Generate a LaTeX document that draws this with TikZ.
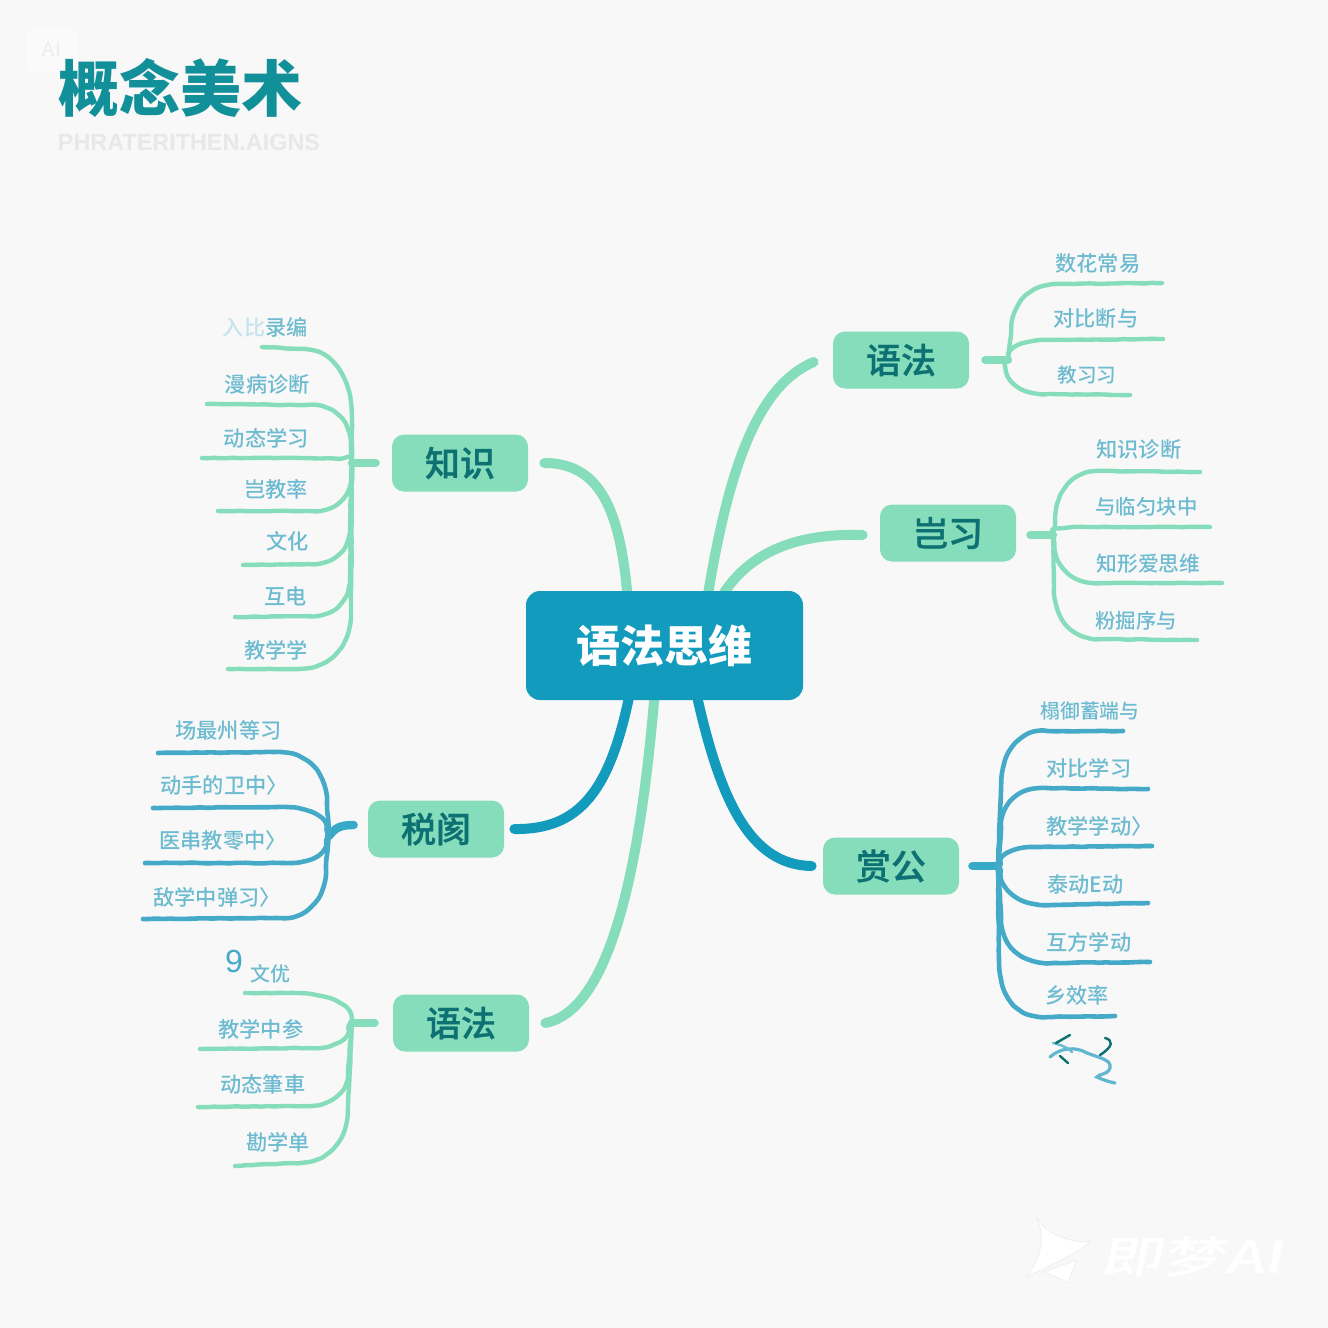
\documentclass[tikz,border=0pt]{standalone}
\usepackage{fontspec}
\usetikzlibrary{backgrounds,decorations.pathmorphing}
\setmainfont{Noto Sans CJK SC}
\newfontfamily\cjkmed[UprightFont={* Medium}]{Noto Sans CJK SC}
\newfontfamily\cjktopic[UprightFont={* Medium},FakeBold=0.9]{Noto Sans CJK SC}
\definecolor{pagebg}{HTML}{F8F8F8}
\definecolor{mint}{HTML}{86DDBB}
\definecolor{ocean}{HTML}{129BBD}
\definecolor{twigblue}{HTML}{45A9C8}
\definecolor{inkdark}{HTML}{0D7072}
\definecolor{inkleaf}{HTML}{6DBBD0}
\definecolor{titleink}{HTML}{12909A}
\newcommand\fs[1]{\fontsize{#1}{#1}\selectfont}
\newcommand\twig[7]{%
  \pgfmathsetmacro\cya{#4+0.62*(#5-#4)}%
  \pgfmathsetmacro\cxb{#6+0.62*(#3-#6)}%
  \draw[#1] (#2) -- (#3,#4) .. controls (#3,\cya) and (\cxb,#5) .. (#6,#5) -- (#7);}
\tikzset{
  x=0.5pt,y=-0.5pt,
  rootbox/.style={fill=ocean,rounded corners=7pt,minimum width=138.5pt,minimum height=54.5pt,inner sep=0pt,text=white,font=\bfseries\fs{22}},
  topicbox/.style={fill=mint,rounded corners=6pt,minimum width=68pt,minimum height=28.5pt,inner sep=0pt,text=inkdark,font=\cjktopic\fs{17.5}},
  leaflabel/.style={inner sep=0pt,text=inkleaf,font=\cjkmed\fs{10.6}},
  mainmint/.style={draw=mint,line width=5pt,line cap=round},
  mainblue/.style={draw=ocean,line width=5pt,line cap=round},
  stubmint/.style={draw=mint,line width=4.2pt,line cap=round},
  stubblue/.style={draw=ocean!85!white,line width=4.2pt,line cap=round},
  hand/.style={rounded corners=0.8pt,decorate,decoration={random steps,segment length=3pt,amplitude=0.18pt}},
  twigmint/.style={draw=mint,line width=2.2pt,line cap=round,line join=round,hand},
  twigblue/.style={draw=twigblue,line width=2.3pt,line cap=round,line join=round,hand},
}
\begin{document}
\begin{tikzpicture}
\pgfmathsetseed{7}
\begin{pgfonlayer}{background}
\fill[pagebg] (0,0) rectangle (1328,1328);
\end{pgfonlayer}
\useasboundingbox (0,0) rectangle (1328,1328);

% header
\node[draw=white!60!pagebg,fill=white!30!pagebg,rounded corners=5pt,line width=0.6pt,minimum width=25pt,minimum height=22pt,inner sep=0pt,text=black!7,font=\fs{10}] (badge) at (52,49) {AI};
\node[inner sep=0pt,text=titleink,font=\bfseries\fs{30.5}] (title) at (180,88) {概念美术};
\node[inner sep=0pt,text=black!9,font={\fontspec{Liberation Sans}\bfseries\fs{11.7}}] (subtitle) at (189,142) {PHRATERITHEN.AIGNS};

% nodes
\node[rootbox] (c) at (664.5,645.5) {语法思维};
\node[topicbox] (kn) at (460,463) {知识};
\node[topicbox] (gr) at (901,360) {语法};
\node[topicbox] (st) at (948,533) {岂习};
\node[topicbox] (sh) at (436,829) {税阂};
\node[topicbox] (sg) at (891,866) {赏公};
\node[topicbox] (gl) at (461,1023) {语法};

% main connectors
\begin{pgfonlayer}{background}
\draw[mainmint] ([xshift=8pt]kn.east) .. controls (600,463) and (620,510) .. ([xshift=51pt,yshift=-3pt]c.north west);
\draw[mainmint] ([xshift=-9.5pt,yshift=-1pt]gr.west) .. controls (760,385) and (730,460) .. ([xshift=91pt,yshift=-3pt]c.north west);
\draw[mainmint] ([xshift=-8.5pt,yshift=-1pt]st.west) .. controls (800,533) and (750,550) .. ([xshift=98pt,yshift=-3pt]c.north west);
\draw[mainmint] ([xshift=8pt]gl.east) .. controls (610,1010) and (640,870) .. ([xshift=64.5pt,yshift=3pt]c.south west);
\draw[mainblue] ([xshift=5pt]sh.east) .. controls (580,830) and (610,790) .. ([xshift=52pt,yshift=3pt]c.south west);
\draw[mainblue] ([xshift=-5.5pt]sg.west) .. controls (750,865) and (720,800) .. ([xshift=85.5pt,yshift=3pt]c.south west);
\end{pgfonlayer}

% branch 知识
\coordinate (kJ) at (352,463);
\draw[stubmint] ([xshift=-8pt]kn.west) -- (kJ);
\coordinate (k1) at (262,347); \coordinate (k2) at (207,404); \coordinate (k3) at (202,458);
\coordinate (k4) at (218,511); \coordinate (k5) at (243,565); \coordinate (k6) at (235,617); \coordinate (k7) at (228,669);
\twig{twigmint}{kJ}{352}{420}{349}{300}{k1}
\twig{twigmint}{kJ}{351}{448}{405}{308}{k2}
\twig{twigmint}{kJ}{352}{463}{458}{300}{k3}
\twig{twigmint}{kJ}{351}{473}{511}{312}{k4}
\twig{twigmint}{kJ}{350}{525}{564}{310}{k5}
\twig{twigmint}{kJ}{350}{575}{616}{310}{k6}
\twig{twigmint}{kJ}{351}{610}{669}{295}{k7}
\node[leaflabel,anchor=east] (kt1) at (308,327) {\textcolor{inkleaf!40!white}{入比}录编};
\node[leaflabel,anchor=east] (kt2) at (310,384) {漫病诊断};
\node[leaflabel,anchor=east] (kt3) at (309,438) {动态学习};
\node[leaflabel,anchor=east] (kt4) at (308,489) {岂教率};
\node[leaflabel,anchor=east] (kt5) at (309,541) {文化};
\node[leaflabel,anchor=east] (kt6) at (307,596) {互电};
\node[leaflabel,anchor=east] (kt7) at (308,650) {教学学};

% branch 税阂
\coordinate (sJ) at (329,836);
\draw[stubblue] ([xshift=-7pt,yshift=2pt]sh.west) .. controls (340,825) and (335,828) .. (sJ);
\coordinate (s1) at (158,753); \coordinate (s2) at (153,808); \coordinate (s3) at (145,863); \coordinate (s4) at (143,919);
\twig{twigblue}{sJ}{327}{805}{752}{275}{s1}
\twig{twigblue}{sJ}{327}{832}{807}{280}{s2}
\twig{twigblue}{sJ}{327}{838}{863}{285}{s3}
\twig{twigblue}{sJ}{326}{865}{918}{280}{s4}
\node[leaflabel,anchor=west] (st1) at (175,730) {场最州等习};
\node[leaflabel,anchor=west] (st2) at (160,785) {动手的卫中〉};
\node[leaflabel,anchor=west] (st3) at (159,841) {医串教零中〉};
\node[leaflabel,anchor=west] (st4) at (153,897) {敌学中弹习〉};

% branch 语法 lower left
\coordinate (lJ) at (352,1023);
\draw[stubmint] ([xshift=-9pt]gl.west) -- (lJ);
\coordinate (l1) at (245,993); \coordinate (l2) at (200,1049); \coordinate (l3) at (198,1107); \coordinate (l4) at (235,1166);
\twig{twigmint}{lJ}{352}{1023}{993}{290}{l1}
\twig{twigmint}{lJ}{349}{1025}{1048}{310}{l2}
\twig{twigmint}{lJ}{348}{1070}{1106}{305}{l3}
\twig{twigmint}{lJ}{348}{1105}{1163}{295}{l4}
\node[inner sep=0pt,text=twigblue,font={\fontspec{Liberation Sans}\fs{16}}] (ln) at (234,961) {9};
\node[leaflabel,anchor=center,font=\cjkmed\fs{10}] (lt1) at (270,974) {文优};
\node[leaflabel,anchor=west] (lt2) at (218,1029) {教学中参};
\node[leaflabel,anchor=west] (lt3) at (220,1084) {动态筆車};
\node[leaflabel,anchor=west] (lt4) at (246,1142) {勘学单};

% branch 语法 upper right
\coordinate (gJ) at (1008,360);
\draw[stubmint] ([xshift=8pt]gr.east) -- (gJ);
\coordinate (g1) at (1162,283); \coordinate (g2) at (1163,339); \coordinate (g3) at (1130,395);
\twig{twigmint}{gJ}{1011}{335}{284}{1060}{g1}
\twig{twigmint}{gJ}{1008}{360}{340}{1050}{g2}
\twig{twigmint}{gJ}{1005}{360}{394}{1045}{g3}
\node[leaflabel,anchor=west] (gt1) at (1055,263) {数花常易};
\node[leaflabel,anchor=west] (gt2) at (1053,318) {对比断与};
\node[leaflabel,anchor=west,font=\cjkmed\fs{9.8}] (gt3) at (1057,375) {教习习};

% branch 岂习
\coordinate (tJ) at (1053,535);
\draw[stubmint] ([xshift=7pt,yshift=-1pt]st.east) -- (tJ);
\coordinate (t1) at (1200,472); \coordinate (t2) at (1210,527); \coordinate (t3) at (1222,583); \coordinate (t4) at (1197,640);
\twig{twigmint}{tJ}{1055}{525}{471}{1100}{t1}
\twig{twigmint}{tJ}{1052}{536}{527}{1085}{t2}
\twig{twigmint}{tJ}{1054}{540}{583}{1100}{t3}
\twig{twigmint}{tJ}{1054}{585}{639}{1100}{t4}
\node[leaflabel,anchor=west] (tt1) at (1096,449) {知识诊断};
\node[leaflabel,anchor=west,font=\cjkmed\fs{10.2}] (tt2) at (1095,507) {与临匀块中};
\node[leaflabel,anchor=west,font=\cjkmed\fs{10.4}] (tt3) at (1096,564) {知形爱思维};
\node[leaflabel,anchor=west,font=\cjkmed\fs{10.2}] (tt4) at (1095,621) {粉掘序与};

% branch 赏公
\coordinate (vJ) at (998,866);
\draw[stubblue] ([xshift=6.5pt]sg.east) -- (vJ);
\coordinate (v1) at (1123,731); \coordinate (v2) at (1148,789); \coordinate (v3) at (1152,846);
\coordinate (v4) at (1148,903); \coordinate (v5) at (1150,962); \coordinate (v6) at (1115,1016);
\twig{twigblue}{vJ}{1001}{790}{731}{1045}{v1}
\twig{twigblue}{vJ}{1001}{830}{788}{1045}{v2}
\twig{twigblue}{vJ}{1000}{866}{847}{1040}{v3}
\twig{twigblue}{vJ}{1000}{868}{905}{1050}{v4}
\twig{twigblue}{vJ}{1001}{915}{963}{1050}{v5}
\twig{twigblue}{vJ}{999}{960}{1017}{1045}{v6}
\node[leaflabel,anchor=west,font=\cjkmed\fs{9.9}] (vt1) at (1040,711) {榻御蓄端与};
\node[leaflabel,anchor=west] (vt2) at (1046,768) {对比学习};
\node[leaflabel,anchor=west] (vt3) at (1046,826) {教学学动〉};
\node[leaflabel,anchor=west] (vt4) at (1047,884) {泰动E动};
\node[leaflabel,anchor=west] (vt5) at (1046,942) {互方学动};
\node[leaflabel,anchor=west] (vt6) at (1045,995) {乡效率};

% squiggle below the last branch
\draw[draw=twigblue!85!white,line width=1.6pt,line cap=round] (1050,1057) .. controls (1060,1048) and (1075,1046) .. (1087,1053) .. controls (1100,1058) and (1112,1060) .. (1110,1068) .. controls (1108,1075) and (1098,1074) .. (1097,1077) .. controls (1103,1080) and (1110,1082) .. (1115,1083);
\draw[draw=twigblue!80!white,line width=1.2pt,line cap=round] (1053,1043) .. controls (1062,1045) and (1068,1048) .. (1072,1052);
\draw[draw=inkdark,line width=1.2pt,line cap=round] (1070,1035) -- (1056,1043);
\draw[draw=inkdark,line width=1.2pt,line cap=round] (1060,1056) -- (1068,1063);
\draw[draw=inkdark,line width=1.2pt,line cap=round] (1105,1038) .. controls (1113,1040) and (1114,1046) .. (1100,1055);

% watermark
\fill[white,draw=black!8,line width=0.3pt] (1037,1218) .. controls (1048,1236) and (1070,1242) .. (1090,1242) .. controls (1075,1255) and (1050,1265) .. (1027,1277) .. controls (1040,1258) and (1046,1240) .. (1037,1218) -- cycle;
\fill[white,draw=black!8,line width=0.3pt] (1077,1260) .. controls (1074,1268) and (1070,1276) .. (1068,1283) .. controls (1060,1278) and (1052,1275) .. (1043,1272) -- cycle;
\node[inner sep=0pt,text=white,xslant=0.2,font=\cjkmed\fs{22}] (wm) at (1195,1257) {\scalebox{1.42}[1]{即梦AI}};
\end{tikzpicture}
\end{document}
